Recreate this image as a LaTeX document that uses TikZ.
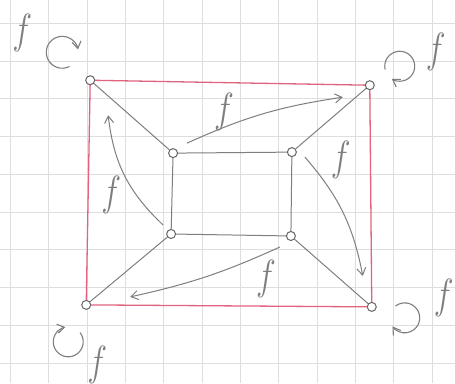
\documentclass[tikz,border=0pt]{standalone}
\usepackage{graphicx}
\usetikzlibrary{arrows.meta, calc}
\definecolor{pencil}{HTML}{7E7E7E}
\definecolor{crayon}{HTML}{E0647F}
\definecolor{squared}{HTML}{DEDEDE}
\newcommand{\fm}{\scalebox{1.35}[1.7]{$f$}}
\begin{document}
\begin{tikzpicture}[
    x=1pt, y=1pt,
    >={Straight Barb[length=7pt, width=9pt]},
    every node/.style={font=\fontsize{24}{24}\selectfont},
    vertex/.style  ={draw=pencil!80!black, fill=white, circle, line width=1pt,
                     inner sep=0pt, minimum size=9pt},
    rim/.style     ={draw=crayon, line width=1.3pt},
    spoke/.style   ={draw=pencil, line width=1pt},
    sweep/.style   ={->, draw=pencil, line width=1pt},
    swirl/.style   ={->, draw=pencil, line width=1.1pt},
    flabel/.style  ={text=pencil, inner sep=0pt},
    gridline/.style={draw=squared, line width=0.7pt},
]
% squared paper
\fill[white] (0,0) rectangle (455,383);
\foreach \i in {0,...,11}
    \draw[gridline] ({10+38.4*\i},0) -- ({10+38.4*\i},383);
\foreach \j in {0,...,9}
    \draw[gridline] (0,{360-37.8*\j}) -- (455,{360-37.8*\j});
\useasboundingbox (0,0) rectangle (455,383);

% outer and inner corners
\node[vertex] (oTL) at (90,303)  {};
\node[vertex] (oTR) at (370,298) {};
\node[vertex] (oBL) at (86,78)   {};
\node[vertex] (oBR) at (372,76)  {};
\node[vertex] (iTL) at (173,230) {};
\node[vertex] (iTR) at (292,231) {};
\node[vertex] (iBL) at (171,149) {};
\node[vertex] (iBR) at (291,147) {};

\draw[rim]   (oTL) -- (oTR);
\draw[rim]   (oTR) -- (oBR);
\draw[rim]   (oBR) -- (oBL);
\draw[rim]   (oBL) -- (oTL);
\draw[spoke] (iTL) -- (iTR);
\draw[spoke] (iTR) -- (iBR);
\draw[spoke] (iBR) -- (iBL);
\draw[spoke] (iBL) -- (iTL);
\draw[spoke] (oTL) -- (iTL);
\draw[spoke] (oTR) -- (iTR);
\draw[spoke] (oBR) -- (iBR);
\draw[spoke] (oBL) -- (iBL);

% maps between the faces
\coordinate (a1s) at ($(iTL)+(14,10)$);
\coordinate (a1e) at ($(oTR)+(-27,-12)$);
\coordinate (a2s) at ($(iTR)+(13,-5)$);
\coordinate (a2e) at ($(oBR)+(-9,31)$);
\coordinate (a3s) at ($(iBR)+(-11,-11)$);
\coordinate (a3e) at ($(oBL)+(44,8)$);
\coordinate (a4s) at ($(iBL)+(-8,9)$);
\coordinate (a4e) at ($(oTL)+(18,-35)$);
\draw[sweep] (a1s) to[bend left=8]  (a1e);
\draw[sweep] (a2s) to[bend left=15] (a2e);
\draw[sweep] (a3s) to[bend left=6]  (a3e);
\draw[sweep] (a4s) to[bend left=20] (a4e);
\node[flabel] (f1) at (224,271) {\fm};
\node[flabel] (f2) at (341,223) {\fm};
\node[flabel] (f3) at (266,104) {\fm};
\node[flabel] (f4) at (111,188) {\fm};

% self-maps at the corners
\draw[swirl] ($(oTL)+(-28,28)+(-63:16)$) arc[start angle=-63, end angle=-350, radius=16];
\draw[swirl] ($(oTR)+(30,19)+(193:15)$)  arc[start angle=193, end angle=-122, radius=15];
\draw[swirl] ($(oBL)+(-18,-37)+(38:15)$) arc[start angle=38, end angle=-259, radius=15];
\draw[swirl] ($(oBR)+(33,-11)+(128:15)$) arc[start angle=128, end angle=-145, radius=15];
\node[flabel] (fTL) at (22,350) {\fm};
\node[flabel] (fTR) at (436,331) {\fm};
\node[flabel] (fBL) at (97,18)  {\fm};
\node[flabel] (fBR) at (444,85) {\fm};
\end{tikzpicture}
\end{document}
